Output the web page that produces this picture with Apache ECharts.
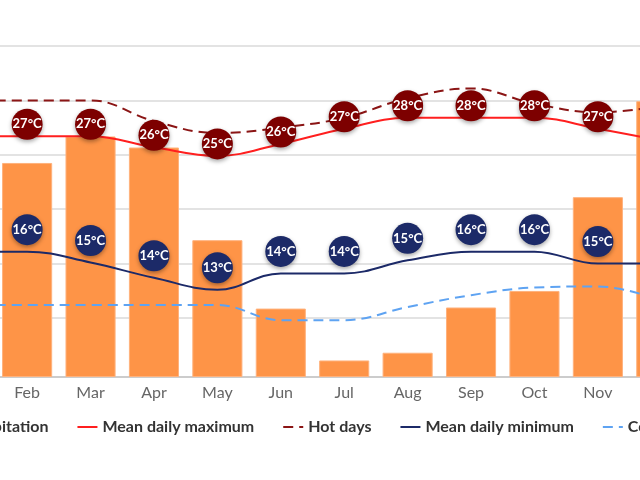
<!DOCTYPE html>
<html>
<head>
<meta charset="utf-8">
<script src="https://cdn.jsdelivr.net/npm/echarts@6/dist/echarts.min.js"></script>
<style>
  html, body { margin: 0; padding: 0; overflow: hidden; background: #fff; }
  #wrap { position: relative; width: 640px; height: 480px; overflow: hidden; }
  #chart { position: absolute; left: -100px; top: 0; width: 880px; height: 480px; }
</style>
</head>
<body>
<div id="wrap"><div id="chart"></div></div>
<script>
var months = ['Jan', 'Feb', 'Mar', 'Apr', 'May', 'Jun', 'Jul', 'Aug', 'Sep', 'Oct', 'Nov', 'Dec'];
var precipitation = [230, 194, 218, 208, 124, 62, 15, 22, 63, 78, 163, 250];
var meanMax = [26.7, 26.7, 26.7, 25.7, 24.9, 26.0, 27.4, 28.4, 28.4, 28.4, 27.4, 26.3];
var hotDays = [30.0, 30.0, 30.0, 28.1, 27.0, 27.5, 28.4, 30.2, 31.1, 29.7, 28.9, 29.5];
var meanMin = [16.1, 16.1, 15.1, 13.7, 12.6, 14.1, 14.1, 15.3, 16.1, 16.1, 15.0, 15.0];
var coldDays = [11.2, 11.2, 11.2, 11.2, 11.2, 9.8, 9.8, 11.0, 12.1, 12.8, 12.9, 11.6];

var font = 'Lato, "Open Sans", sans-serif';

// round badges with the rounded temperature, sitting a bit above the line
function badge(color, offsetY, values) {
    return {
        type: 'scatter',
        xAxisIndex: 0,
        yAxisIndex: 0,
        symbol: 'circle',
        symbolSize: 31,
        symbolOffset: [0, offsetY],
        clip: false,
        z: 10,
        itemStyle: {
            color: color,
            opacity: 1,
            shadowBlur: 4,
            shadowOffsetY: 2,
            shadowColor: 'rgba(0,0,0,0.35)'
        },
        label: {
            show: true,
            position: 'inside',
            color: '#fff',
            fontFamily: font,
            fontWeight: 'bold',
            fontSize: 13,
            formatter: function (p) { return Math.round(p.value) + '°C'; }
        },
        emphasis: { disabled: true },
        data: values
    };
}

function tempLine(name, values, color, dashed) {
    return {
        name: name,
        type: 'line',
        xAxisIndex: 0,
        yAxisIndex: 0,
        smooth: 0.4,
        symbol: 'none',
        clip: false,
        lineStyle: { color: color, width: 2, type: dashed ? [10, 6] : 'solid' },
        itemStyle: { color: color },
        data: values
    };
}

function lineKey(name) {
    return { name: name, itemStyle: { opacity: 0 } };
}

var chart = echarts.init(document.getElementById('chart'));

var option = {
    animation: false,
    grid: [
        { left: 32, right: 87, top: 46, bottom: 162 },
        { left: 32, right: 87, top: 46, bottom: 103 }
    ],
    xAxis: [
        { type: 'category', gridIndex: 0, data: months, show: false },
        {
            type: 'category', gridIndex: 1, data: months,
            axisLine: { lineStyle: { color: '#cccccc', width: 2 } },
            axisTick: { show: false },
            axisLabel: { color: '#666', fontSize: 16, fontFamily: font, margin: 8 }
        }
    ],
    yAxis: [
        {
            type: 'value', gridIndex: 0, min: 10, max: 35, interval: 5,
            axisLine: { show: false }, axisTick: { show: false }, axisLabel: { show: false },
            splitLine: { lineStyle: { color: '#e3e3e3', width: 2 } }
        },
        {
            type: 'value', gridIndex: 1, min: 0, max: 300,
            axisLine: { show: false }, axisTick: { show: false }, axisLabel: { show: false },
            splitLine: { show: false }
        }
    ],
    legend: {
        data: [
            'Precipitation',
            lineKey('Mean daily maximum'),
            lineKey('Hot days'),
            lineKey('Mean daily minimum'),
            lineKey('Cold days')
        ],
        top: 414,
        left: 26,
        itemWidth: 20,
        itemHeight: 10,
        itemGap: 28,
        textStyle: { color: '#333', fontSize: 16, fontWeight: 'bold', fontFamily: font }
    },
    series: [
        {
            name: 'Precipitation',
            type: 'bar',
            xAxisIndex: 1,
            yAxisIndex: 1,
            barCategoryGap: '21%',
            itemStyle: { color: '#fe9447', borderColor: '#ffb27d', borderWidth: 1 },
            data: precipitation
        },
        tempLine('Mean daily maximum', meanMax, '#ff1f1f', false),
        tempLine('Hot days', hotDays, '#8b1515', true),
        tempLine('Mean daily minimum', meanMin, '#1c2a68', false),
        tempLine('Cold days', coldDays, '#5ea3f2', true),
        badge('#7d0000', -12, meanMax),
        badge('#1c2a68', -22, meanMin)
    ]
};

chart.setOption(option);
</script>
</body>
</html>
